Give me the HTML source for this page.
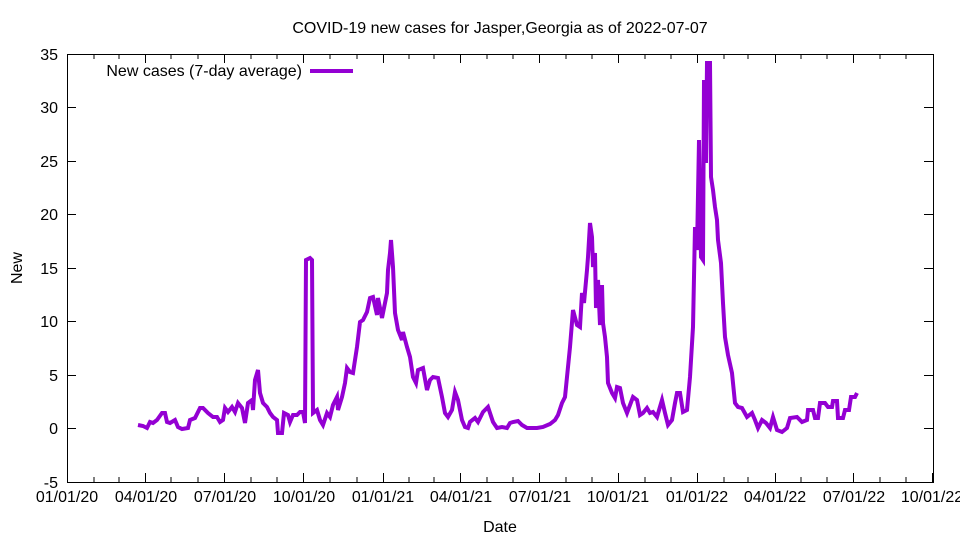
<!DOCTYPE html>
<html><head><meta charset="utf-8"><style>body{margin:0;background:#fff}svg{display:block;font-family:"Liberation Sans",sans-serif}</style></head><body>
<svg width="960" height="540" viewBox="0 0 960 540" xmlns="http://www.w3.org/2000/svg">
<rect width="960" height="540" fill="#fff"/>
<text x="500" y="33" font-size="16" text-anchor="middle">COVID-19 new cases for Jasper,Georgia as of 2022-07-07</text>
<g stroke="#000" stroke-width="1" fill="none">
<rect x="67.5" y="54.5" width="866" height="428"/>
<path d="M67 482.5h9M67 428.5h9M67 375.5h9M67 321.5h9M67 268.5h9M67 214.5h9M67 161.5h9M67 107.5h9M67 54.5h9M933 482.5h-9M933 428.5h-9M933 375.5h-9M933 321.5h-9M933 268.5h-9M933 214.5h-9M933 161.5h-9M933 107.5h-9"/>
</g>
<g font-size="16" text-anchor="end">
<text x="58" y="488">-5</text><text x="58" y="434">0</text><text x="58" y="381">5</text><text x="58" y="327">10</text><text x="58" y="274">15</text><text x="58" y="220">20</text><text x="58" y="167">25</text><text x="58" y="113">30</text><text x="58" y="60">35</text>
</g>
<g stroke="#000" stroke-width="1">
<path d="M67.5 482v-9M145.5 482v-9M224.5 482v-9M303.5 482v-9M383.5 482v-9M460.5 482v-9M539.5 482v-9M618.5 482v-9M697.5 482v-9M775.5 482v-9M853.5 482v-9M932.5 482v-9M67.5 54v9M145.5 54v9M224.5 54v9M303.5 54v9M383.5 54v9M460.5 54v9M539.5 54v9M618.5 54v9M697.5 54v9M775.5 54v9M853.5 54v9"/>
<path d="M94 482v-5M119 482v-5M171 482v-5M198 482v-5M251 482v-5M277 482v-5M330 482v-5M357 482v-5M409 482v-5M434 482v-5M487 482v-5M513 482v-5M566 482v-5M592 482v-5M645 482v-5M671 482v-5M724 482v-5M748 482v-5M801 482v-5M827 482v-5M880 482v-5M906 482v-5M94 54v5M119 54v5M171 54v5M198 54v5M251 54v5M277 54v5M330 54v5M357 54v5M409 54v5M434 54v5M487 54v5M513 54v5M566 54v5M592 54v5M645 54v5M671 54v5M724 54v5M748 54v5M801 54v5M827 54v5M880 54v5M906 54v5"/>
</g>
<g font-size="16" text-anchor="middle">
<text x="67" y="502">01/01/20</text><text x="146" y="502">04/01/20</text><text x="225" y="502">07/01/20</text><text x="304" y="502">10/01/20</text><text x="383" y="502">01/01/21</text><text x="461" y="502">04/01/21</text><text x="540" y="502">07/01/21</text><text x="618" y="502">10/01/21</text><text x="697" y="502">01/01/22</text><text x="775" y="502">04/01/22</text><text x="854" y="502">07/01/22</text><text x="932" y="502">10/01/22</text>
</g>
<text x="500" y="532" font-size="16" text-anchor="middle">Date</text>
<text x="22" y="268" font-size="16" text-anchor="middle" transform="rotate(-90 22 268)">New</text>
<text x="302" y="76" font-size="16" text-anchor="end">New cases (7-day average)</text>
<path d="M310 71H353" stroke="#9400d3" stroke-width="4"/>
<polyline fill="none" stroke="#9400d3" stroke-width="4" stroke-linejoin="miter" points="138,425 143,426 147,428 150,422 153,423 157,420 162,413 165,413 167,422 170,423 175,420 178,427 182,429 188,428 190,420 195,418 200,408 203,408 208,413 213,417 217,417 220,422 223,420 225,408 228,412 232,407 235,412 238,403 242,408 245,423 248,403 252,400 253,410 255,380 258,370 260,393 263,403 267,407 270,413 273,417 277,420 278,433 282,433 284,413 288,415 290,422 293,415 297,415 300,412 303,412 305,423 306,260 310,258 312,260 313,413 317,410 320,420 323,425 327,413 330,417 333,405 337,397 338,410 342,397 345,383 347,368 350,372 353,373 357,347 360,322 363,320 367,312 370,298 373,297 377,315 378,298 382,318 387,293 388,270 390,253 391,240 393,267 395,313 398,330 402,340 403,332 407,347 410,357 413,377 416,383 418,370 423,368 427,390 430,380 433,377 438,378 442,397 445,413 448,417 452,410 455,392 458,400 462,420 465,427 468,428 470,422 475,418 478,422 483,412 488,407 490,413 493,422 497,428 502,427 507,428 510,423 513,422 518,421 522,425 527,428 537,428 543,427 550,424 555,420 558,415 562,403 565,397 568,367 570,347 573,310 577,325 580,327 582,293 584,303 587,270 588,257 590,223 592,237 593,267 595,253 596,308 598,280 600,325 602,285 603,323 605,337 607,357 608,383 612,393 615,398 617,387 620,388 623,403 627,413 630,405 633,397 637,400 640,415 643,413 647,408 650,413 653,412 657,417 662,400 665,413 668,425 672,420 675,403 677,393 680,393 683,412 687,410 690,377 693,327 695,227 697,250 699,140 701,257 703,260 704,80 706,163 707,63 710,63 711,177 713,190 715,207 717,220 718,240 721,263 723,303 725,337 728,355 732,373 735,403 738,407 742,408 747,417 752,413 755,420 758,428 762,420 766,423 770,428 773,417 777,430 782,432 787,428 790,418 797,417 802,422 807,420 808,410 813,410 815,418 818,418 820,403 825,403 828,407 832,407 833,401 837,401 838,418 843,418 845,410 849,410 851,397 855,397 857,393"/>
</svg>
</body></html>
